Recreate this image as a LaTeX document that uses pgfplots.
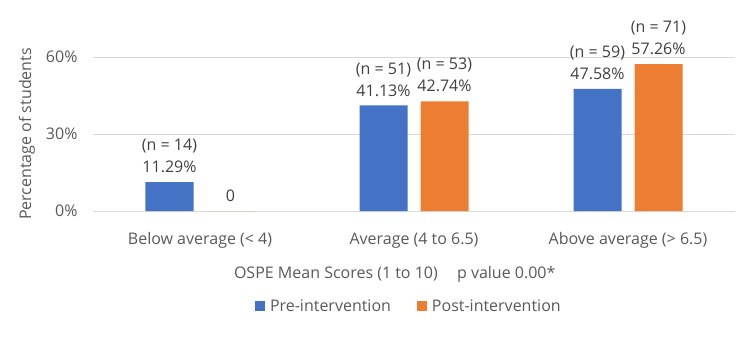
\documentclass[border=0pt]{standalone}
\usepackage{pgfplots}
\pgfplotsset{compat=1.18}
\usepackage{fontspec}
\setmainfont{Open Sans}
\definecolor{blueA}{HTML}{4472C4}
\definecolor{orangeA}{HTML}{ED7D31}
\definecolor{tickgray}{HTML}{595959}
\definecolor{labgray}{HTML}{404040}
\definecolor{gridgray}{HTML}{D9D9D9}
\begin{document}
\begin{tikzpicture}[x=1pt,y=1pt]
\useasboundingbox (0,0) rectangle (750,338);
\begin{axis}[
  at={(93pt,127pt)}, anchor=south west,
  scale only axis, width=642pt, height=154pt,
  xmin=-0.5, xmax=2.5, ymin=0, ymax=60,
  ybar=13pt, bar width=48pt,
  clip=false,
  axis line style={draw=none},
  major tick length=0pt,
  ymajorgrids, grid style={gridgray, line width=0.8pt},
  ytick={0,30,60},
  yticklabel={\pgfmathprintnumber{\tick}\%},
  /pgf/number format/assume math mode=true,
  yticklabel style={font=\fontsize{16}{18}\selectfont, text=tickgray, xshift=-12pt},
  xtick={0,1,2},
  xticklabels={Below average (< 4), Average (4 to 6.5), Above average (> 6.5)},
  xticklabel style={font=\fontsize{16}{18}\selectfont, text=tickgray, yshift=-18pt},
  ylabel={Percentage of students},
  ylabel style={at={(axis description cs:-0.103,0.5)}, anchor=center, font=\fontsize{16}{18}\selectfont, text=tickgray},
  xlabel={OSPE Mean Scores (1 to 10)\hspace{1.2em}p value 0.00*},
  xlabel style={at={(axis description cs:0.47,-0.41)}, anchor=center, font=\fontsize{16}{18}\selectfont, text=tickgray},
  legend style={at={(axis description cs:0.492,-0.62)}, anchor=center, draw=none, fill=none,
    legend columns=2, font=\fontsize{16}{18}\selectfont, text=tickgray,
    /tikz/every odd column/.append style={column sep=3pt},
    /tikz/every even column/.append style={column sep=24pt}},
  legend image code/.code={\fill[#1] (0pt,-5pt) rectangle (10pt,5pt);},
  point meta=explicit symbolic,
  nodes near coords,
  nodes near coords style={font=\fontsize{16}{22}\selectfont, text=labgray, align=center, anchor=south, inner sep=2pt, yshift=7pt},
]
\addplot[fill=blueA, draw=none] coordinates {
  (0,11.29) [{(n = 14)\\11.29\%}]
  (1,41.13) [{(n = 51)\\41.13\%}]
  (2,47.58) [{(n = 59)\\47.58\%}]
};
\addlegendentry{Pre-intervention}
\addplot[fill=orangeA, draw=none] coordinates {
  (0,0) [{0}]
  (1,42.74) [{(n = 53)\\42.74\%}]
  (2,57.26) [{(n = 71)\\57.26\%}]
};
\addlegendentry{Post-intervention}
\end{axis}
\end{tikzpicture}
\end{document}
